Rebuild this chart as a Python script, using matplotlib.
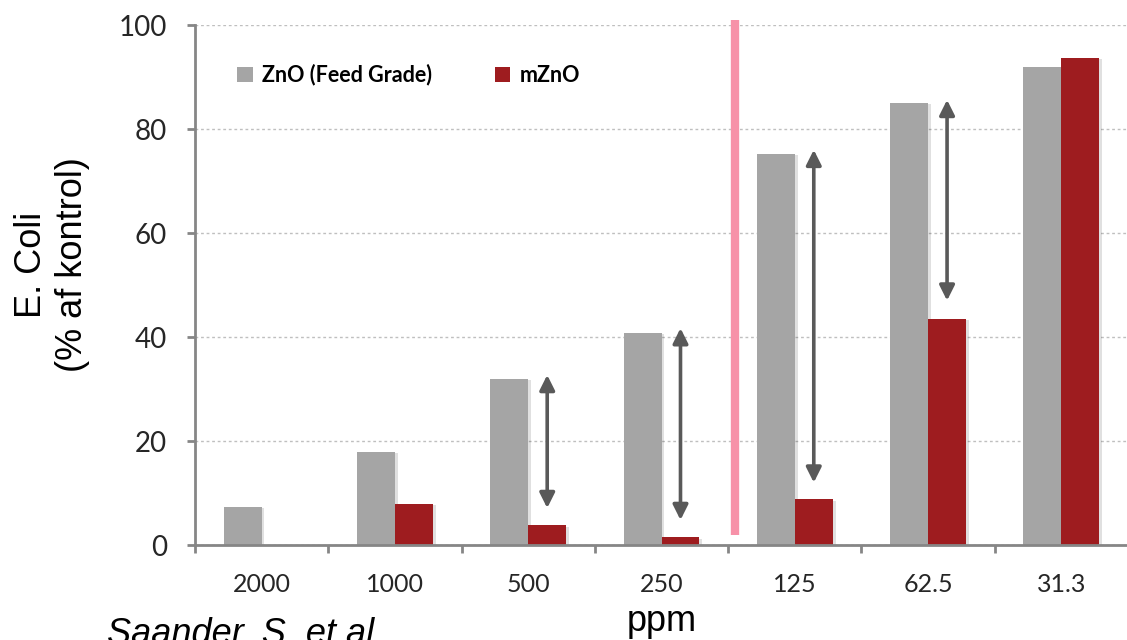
import numpy as np
import matplotlib
matplotlib.use("Agg")
import matplotlib.pyplot as plt
import matplotlib.patheffects as pe
from matplotlib.patches import Patch

# values
categories = ["2000", "1000", "500", "250", "125", "62.5", "31.3"]
zno_feed = [7.3, 17.9, 32.0, 40.8, 75.2, 85.0, 91.9]
mzno = [0.0, 7.9, 3.8, 1.5, 8.8, 43.5, 93.7]
arrow_cats = [2, 3, 4, 5]
arrow_top = [32.7, 41.7, 76.0, 85.6]
arrow_bottom = [7.1, 4.8, 12.0, 47.0]
yticks = [0, 20, 40, 60, 80, 100]

GRAY = "#A5A5A5"
RED = "#9E1C1F"
SPINE = "#868686"
TICK_FONT = ["Liberation Sans Narrow", "Lato"]
LEG_FONT = "Lato"
LABEL_FONT = "Liberation Sans"

fig = plt.figure(figsize=(11.27, 6.4), dpi=100)
ax = fig.add_axes([195 / 1127, 1 - 545 / 640, 933 / 1127, 520 / 640])

x = np.arange(len(categories))
w = 0.285
shadow = [pe.SimplePatchShadow(offset=(2, -1), shadow_rgbFace="k", alpha=0.12), pe.Normal()]
b1 = ax.bar(x - w / 2, zno_feed, width=w, color=GRAY, zorder=3)
b2 = ax.bar(x + w / 2, mzno, width=w, color=RED, zorder=3)
for b in list(b1) + list(b2):
    b.set_path_effects(shadow)

# double-headed arrows above the mZnO bars
for c, top, bot in zip(arrow_cats, arrow_top, arrow_bottom):
    ax.annotate("", xy=(c + w / 2, top), xytext=(c + w / 2, bot),
                arrowprops=dict(arrowstyle="<|-|>,head_length=0.9,head_width=0.45",
                                color="#595959", lw=2.6, shrinkA=0, shrinkB=0),
                zorder=4)

# pink divider between 250 and 125
ax.plot([3.55, 3.55], [1.9, 101], color="#F791A8", lw=6, solid_capstyle="butt",
        zorder=4, clip_on=False)

ax.set_xlim(-0.5, 6.5)
ax.set_ylim(0, 100)
ax.set_yticks(yticks)
ax.set_yticklabels([str(t) for t in yticks], fontfamily=TICK_FONT, fontsize=20, color="#262626")
ax.set_xticks(x)
ax.set_xticklabels(categories, fontfamily=TICK_FONT, fontsize=18, color="#262626")
ax.set_xticks(np.arange(-0.5, 6.0, 1.0), minor=True)
ax.tick_params(axis="x", which="major", length=0, pad=20)
ax.tick_params(axis="x", which="minor", length=6, width=2, color=SPINE, direction="out")
ax.tick_params(axis="y", length=6, width=2, color=SPINE, direction="out", pad=14)

for s in ("top", "right"):
    ax.spines[s].set_visible(False)
for s in ("left", "bottom"):
    ax.spines[s].set_color(SPINE)
    ax.spines[s].set_linewidth(2)
ax.spines["bottom"].set_zorder(5)

ax.yaxis.grid(True, color="#BFBFBF", lw=1, linestyle=(0, (2, 2)), zorder=0)
ax.set_axisbelow(True)

handles = [Patch(facecolor=GRAY, label="ZnO (Feed Grade)"),
           Patch(facecolor=RED, label="mZnO")]
leg = ax.legend(handles=handles, loc="center left", bbox_to_anchor=(0.034, 0.904),
                ncol=2, frameon=False, borderpad=0, handlelength=0.7, handleheight=0.7,
                handletextpad=0.45, columnspacing=2.9,
                prop={"family": LEG_FONT, "weight": "bold", "size": 15.5})

fig.text(52 / 1127, 1 - 265 / 640, "E. Coli\n(% af kontrol)", rotation=90,
         ha="center", va="center", multialignment="center",
         fontfamily=LABEL_FONT, fontsize=26, linespacing=1.25)
fig.text(662 / 1127, 1 - 631 / 640, "ppm", ha="center", va="baseline",
         fontfamily=LABEL_FONT, fontsize=26)
fig.text(107 / 1127, 1 - 643 / 640, "Saander, S. et al.", ha="left", va="baseline",
         fontfamily=LABEL_FONT, fontsize=26, style="italic")

fig.savefig("out.png", dpi=100)
